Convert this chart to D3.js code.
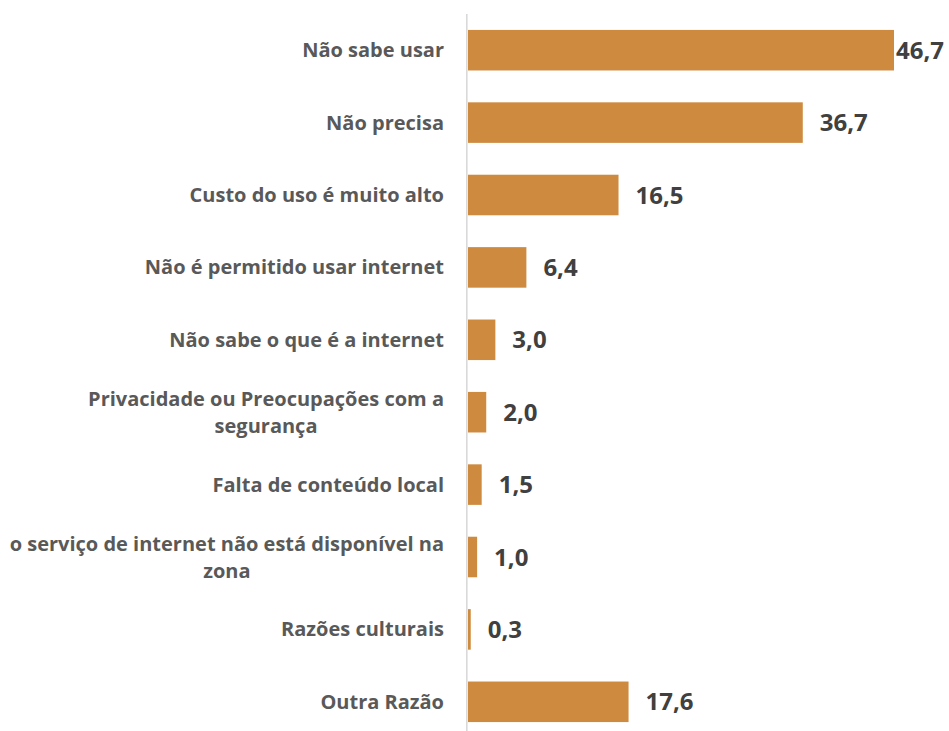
<!DOCTYPE html>
<html>
<head>
<meta charset="utf-8">
<script src="https://cdn.jsdelivr.net/npm/d3@7"></script>
<style>
  html, body { margin: 0; padding: 0; background: #ffffff; }
  svg { display: block; }
</style>
</head>
<body>
<svg id="chart" width="949" height="731"></svg>
<script>
const categories = [
  "Não sabe usar",
  "Não precisa",
  "Custo do uso é muito alto",
  "Não é permitido usar internet",
  "Não sabe o que é a internet",
  "Privacidade ou Preocupações com a\nsegurança",
  "Falta de conteúdo local",
  "o serviço de internet não está disponível na\nzona",
  "Razões culturais",
  "Outra Razão"
];
const values = [46.7, 36.7, 16.5, 6.4, 3.0, 2.0, 1.5, 1.0, 0.3, 17.6];

const W = 949, H = 731;
const svg = d3.select("#chart");

const x = d3.scaleLinear().domain([0, 46.7]).range([468, 894]);
const y = d3.scaleBand().domain(categories).range([14, 738]).paddingInner(0.44).paddingOuter(0.22);

const fmt = d3.formatLocale({decimal: ",", thousands: ".", grouping: [3], currency: ["", ""]}).format(".1f");

// bars
svg.append("g").selectAll("rect")
  .data(categories)
  .join("rect")
  .attr("x", x(0))
  .attr("y", d => y(d))
  .attr("width", (d, i) => x(values[i]) - x(0))
  .attr("height", y.bandwidth())
  .attr("fill", "#CE8B3F");

// axis line
svg.append("line")
  .attr("x1", 466.8).attr("x2", 466.8)
  .attr("y1", 14).attr("y2", H)
  .attr("stroke", "#d9d9d9").attr("stroke-width", 1.6);

// category labels
const labelRight = 444;
const labelSize = 20;
const lineH = 27;
const lg = svg.append("g")
  .attr("font-family", "'Open Sans', sans-serif")
  .attr("font-weight", 700)
  .attr("font-size", labelSize)
  .attr("fill", "#595959");

categories.forEach((c, i) => {
  const lines = c.split("\n");
  const cy = y(c) + y.bandwidth() / 2;
  const t = lg.append("text").attr("text-anchor", "middle");
  const spans = lines.map((ln, k) => t.append("tspan")
    .attr("y", cy + 7 + (k - (lines.length - 1) / 2) * lineH)
    .text(ln));
  let maxW = 0;
  spans.forEach(s => { maxW = Math.max(maxW, s.node().getComputedTextLength()); });
  spans.forEach(s => s.attr("x", labelRight - maxW / 2));
});

// value labels
const vg = svg.append("g")
  .attr("font-family", "'Open Sans', sans-serif")
  .attr("font-weight", 700)
  .attr("font-size", 24)
  .attr("fill", "#404040");

categories.forEach((c, i) => {
  const t = vg.append("text")
    .attr("y", y(c) + y.bandwidth() / 2 + 8.5)
    .text(fmt(values[i]));
  const w = t.node().getComputedTextLength();
  let px = x(values[i]) + 17;
  if (px + w > W - 5) px = W - 5 - w;
  t.attr("x", px);
});
</script>
</body>
</html>
